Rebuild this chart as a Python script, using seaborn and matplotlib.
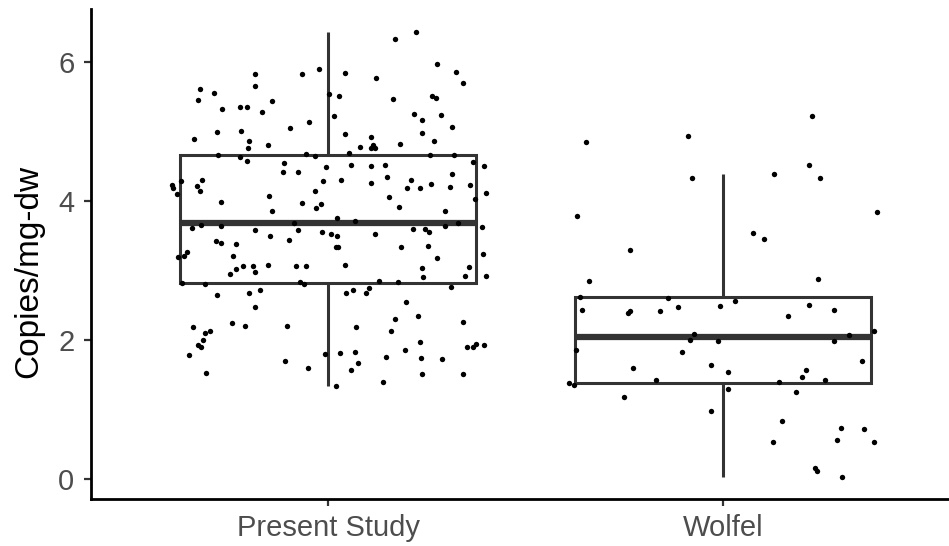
"""Copies/mg-dw: present study vs Wolfel, boxplot with jittered points."""
import numpy as np, pandas as pd
import matplotlib
matplotlib.use("Agg")
import matplotlib.pyplot as plt
import seaborn as sns

GROUPS = ["Present Study", "Wolfel"]

# values (y) and the horizontal jitter of each dot
present_copies = [
    5.823, 5.832, 5.904, 5.650, 5.612, 5.550, 5.453, 5.435, 5.328, 5.357,
    5.357, 5.276, 5.535, 4.993, 5.007, 5.046, 5.132, 4.892, 4.868, 4.763,
    4.801, 4.658, 4.637, 4.580, 4.676, 4.647, 4.542, 4.417, 4.413, 4.494,
    4.292, 4.235, 4.187, 4.105, 4.220, 4.306, 4.140, 4.292, 4.148, 4.072,
    6.432, 6.331, 5.967, 5.842, 5.770, 5.860, 5.702, 5.515, 5.463, 5.511,
    5.486, 5.219, 5.252, 5.165, 5.237, 5.069, 4.960, 4.921, 4.974, 4.859,
    4.773, 4.801, 4.767, 4.763, 4.816, 4.695, 4.666, 4.658, 4.557, 4.504,
    4.514, 4.508, 4.514, 4.298, 4.263, 4.345, 4.302, 4.191, 4.187, 4.249,
    4.388, 4.201, 4.235, 4.119, 4.058, 4.024,
    3.990, 3.967, 3.895, 3.953, 3.860, 3.616, 3.659, 3.640, 3.587, 3.683,
    3.578, 3.558, 3.501, 3.443, 3.429, 3.396, 3.377, 3.271, 3.190, 3.209,
    3.213, 3.069, 3.022, 2.954, 3.069, 2.978, 3.079, 3.060, 3.069, 2.820,
    2.810, 2.830, 2.806, 2.643, 2.676, 2.724, 2.471, 2.183, 2.240, 2.197,
    2.206, 2.105, 2.129, 2.004, 1.924, 1.899, 1.784, 1.694, 1.597, 1.799,
    1.529,
    3.918, 3.856, 3.760, 3.708, 3.640, 3.679, 3.626, 3.593, 3.593, 3.554,
    3.521, 3.496, 3.521, 3.338, 3.338, 3.338, 3.357, 3.176, 3.237, 3.079,
    3.032, 2.911, 3.050, 2.921, 2.925, 2.845, 2.835, 2.753, 2.672, 2.724,
    2.672, 2.763, 2.551, 2.350, 2.298, 2.263, 2.183, 2.125, 1.967, 1.852,
    1.904, 1.904, 1.947, 1.932, 1.809, 1.827, 1.673, 1.755, 1.741, 1.727,
    1.564, 1.515, 1.511, 1.400, 1.338,
]
present_jitter = [
    -0.186, -0.065, -0.022, -0.186, -0.323, -0.289, -0.330, -0.142, -0.269, -0.224,
    -0.204, -0.168, 0.002, -0.281, -0.221, -0.096, -0.049, -0.338, -0.199, -0.203,
    -0.152, -0.279, -0.224, -0.206, -0.057, -0.032, -0.112, -0.115, -0.077, -0.005,
    -0.371, -0.395, -0.393, -0.383, -0.331, -0.318, -0.325, -0.012, -0.033, -0.150,
    0.222, 0.169, 0.277, 0.043, 0.121, 0.325, 0.341, 0.027, 0.165, 0.262,
    0.274, 0.014, 0.217, 0.238, 0.285, 0.313, 0.043, 0.110, 0.237, 0.269,
    0.080, 0.114, 0.110, 0.118, 0.182, 0.054, 0.258, 0.318, 0.366, 0.395,
    0.059, 0.110, 0.144, 0.033, 0.110, 0.150, 0.211, 0.199, 0.233, 0.261,
    0.315, 0.310, 0.359, 0.399, 0.154, 0.373,
    -0.272, -0.067, -0.030, -0.018, -0.143, -0.345, -0.322, -0.270, -0.184, -0.087,
    -0.076, -0.016, -0.146, -0.098, -0.284, -0.271, -0.233, -0.358, -0.380, -0.364,
    -0.241, -0.216, -0.232, -0.249, -0.190, -0.184, -0.151, -0.080, -0.057, -0.369,
    -0.311, -0.071, -0.061, -0.282, -0.199, -0.173, -0.184, -0.341, -0.244, -0.211,
    -0.104, -0.312, -0.300, -0.316, -0.330, -0.321, -0.351, -0.110, -0.050, -0.008,
    -0.308,
    0.180, 0.297, 0.022, 0.069, 0.297, 0.330, 0.391, 0.215, 0.245, 0.256,
    0.008, 0.022, 0.118, 0.019, 0.026, 0.184, 0.252, 0.276, 0.393, 0.044,
    0.237, 0.240, 0.358, 0.347, 0.399, 0.129, 0.177, 0.104, 0.097, 0.063,
    0.045, 0.311, 0.197, 0.229, 0.170, 0.341, 0.070, 0.159, 0.233, 0.194,
    0.352, 0.368, 0.374, 0.394, 0.031, 0.069, 0.076, 0.148, 0.236, 0.289,
    0.057, 0.237, 0.341, 0.138, 0.019,
]

wolfel_copies = [
    4.849, 4.935, 4.335, 3.780, 3.291, 2.849, 5.227, 4.514, 4.384, 4.335,
    3.846, 3.540, 3.449, 2.873, 2.614, 2.609, 2.427, 2.393, 2.422, 2.422,
    2.475, 2.086, 2.000, 1.986, 1.856, 1.823, 1.601, 1.640, 1.424, 1.381,
    1.353, 1.184, 0.978, 2.494, 2.565, 2.499, 2.427, 2.345, 2.134, 2.076,
    1.986, 1.698, 1.535, 1.564, 1.472, 1.429, 1.400, 1.299, 1.256, 0.830,
    0.738, 0.719, 0.532, 0.565, 0.537, 0.163, 0.119, 0.029,
]
wolfel_jitter = [
    -0.348, -0.088, -0.079, -0.370, -0.235, -0.340, 0.225, 0.217, 0.129, 0.245,
    0.389, 0.075, 0.103, 0.241, -0.362, -0.140, -0.358, -0.241, -0.235, -0.159,
    -0.113, -0.073, -0.084, -0.013, -0.373, -0.104, -0.227, -0.030, -0.170, -0.390,
    -0.377, -0.251, -0.030, -0.008, 0.030, 0.218, 0.282, 0.165, 0.383, 0.319,
    0.280, 0.352, 0.013, 0.211, 0.199, 0.258, 0.142, 0.013, 0.184, 0.148,
    0.299, 0.357, 0.127, 0.289, 0.382, 0.233, 0.238, 0.301,
]

df = pd.DataFrame({
    "study": [GROUPS[0]] * len(present_copies) + [GROUPS[1]] * len(wolfel_copies),
    "copies": present_copies + wolfel_copies,
    "jitter": present_jitter + wolfel_jitter,
})
df["pos"] = df["study"].map({g: i for i, g in enumerate(GROUPS)}) + df["jitter"]

sns.set_style("white")
plt.rcParams["font.family"] = ["Liberation Sans", "DejaVu Sans"]

fig = plt.figure(figsize=(9.49, 5.46), dpi=100)
ax = fig.add_axes([91 / 949, 1 - 499 / 546, 858 / 949, 490 / 546])

sns.boxplot(data=df, x="study", y="copies", order=GROUPS, width=0.75,
            color="white", linecolor="#333333", linewidth=2.2,
            showfliers=False, showcaps=False,
            medianprops=dict(linewidth=4.5, color="#333333"), ax=ax)
sns.scatterplot(data=df, x="pos", y="copies", color="black", s=15,
                linewidth=0, ax=ax, zorder=3, legend=False)

ax.set_xlim(-0.6, 1.572)
ax.set_ylim(-0.288, 6.763)
ax.set_xticks([0, 1], GROUPS)
ax.set_yticks([0, 2, 4, 6])
ax.set_xlabel("")
ax.set_ylabel("Copies/mg-dw", fontsize=24, color="black")
ax.yaxis.set_label_coords(-0.054, 0.465)
ax.tick_params(axis="both", labelsize=21, labelcolor="#4D4D4D", color="#333333",
               length=5, width=1.6, left=True, bottom=True)
ax.tick_params(axis="y", pad=7)
ax.tick_params(axis="x", pad=6)

sns.despine(ax=ax)
for side in ["left", "bottom"]:
    ax.spines[side].set_color("black")
    ax.spines[side].set_linewidth(2.0)
ax.grid(False)

fig.savefig("out.png", dpi=100)
print("saved out.png")
